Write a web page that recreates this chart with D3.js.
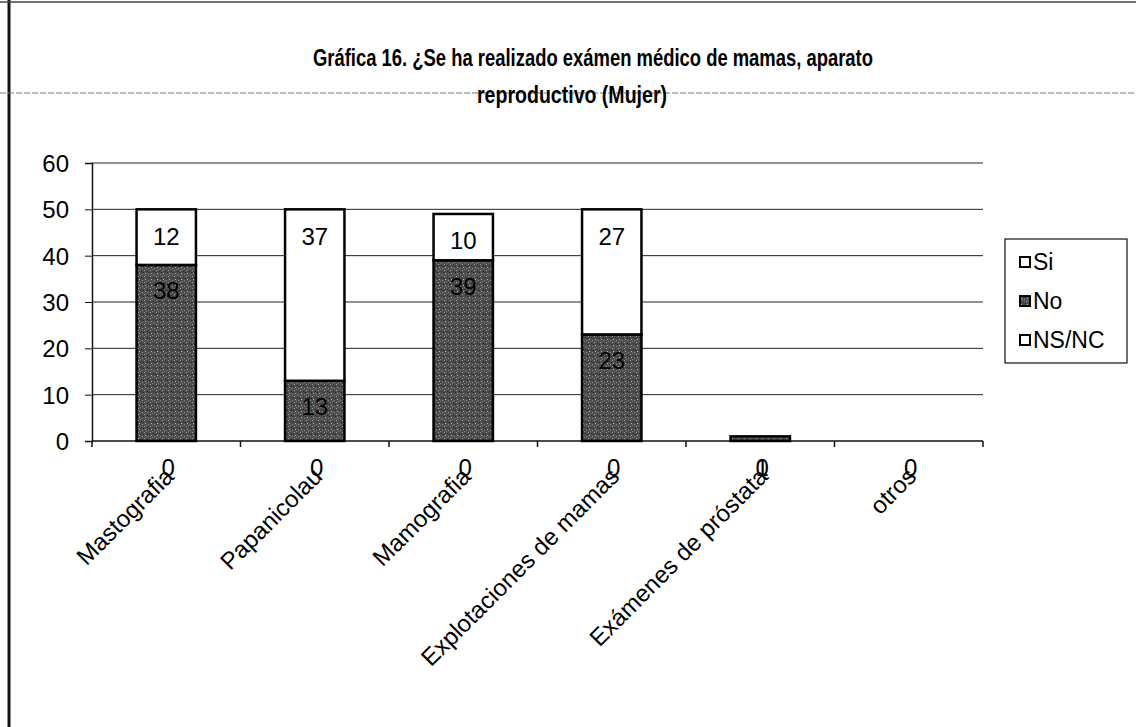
<!DOCTYPE html>
<html>
<head>
<meta charset="utf-8">
<script src="https://cdn.jsdelivr.net/npm/d3@7"></script>
<style>
  body { margin: 0; background: #fff; }
  svg { display: block; }
  text { font-family: Arial, "Liberation Sans", sans-serif; fill: #000; }
</style>
</head>
<body>
<svg id="chart" width="1136" height="727"></svg>
<script>
// data
const categories = ["Mastografia", "Papanicolau", "Mamografia", "Explotaciones de mamas", "Exámenes de próstata", "otros"];
const siValues = [12, 37, 10, 27, 0, 0];
const noValues = [38, 13, 39, 23, 1, 0];
const nsncValues = [0, 0, 0, 0, 0, 0];
const seriesNames = ["Si", "No", "NS/NC"];
const yTicks = [0, 10, 20, 30, 40, 50, 60];
const titleLines = ["Gráfica 16. ¿Se ha realizado exámen médico de mamas, aparato", "reproductivo (Mujer)"];

const rows = categories.map((c, i) => ({ cat: c, "Si": siValues[i], "No": noValues[i], "NS/NC": nsncValues[i] }));

const svg = d3.select("#chart");
const margin = { top: 163, left: 92, right: 983, bottom: 441 };

// speckled dark fill for "No"
const defs = svg.append("defs");
const pat = defs.append("pattern")
    .attr("id", "speckle")
    .attr("patternUnits", "userSpaceOnUse")
    .attr("width", 6).attr("height", 6);
pat.append("rect").attr("width", 6).attr("height", 6).attr("fill", "#4d4d4d");
[[0, 0, "#9a9a9a"], [3, 1, "#2a2a2a"], [1, 3, "#b0b0b0"], [4, 4, "#8a8a8a"], [5, 2, "#222"], [2, 5, "#777"]]
    .forEach(p => pat.append("rect").attr("x", p[0]).attr("y", p[1]).attr("width", 1).attr("height", 1).attr("fill", p[2]));

const colors = { "Si": "#fff", "No": "url(#speckle)", "NS/NC": "#fff" };

// frame of the scanned page
svg.append("line").attr("x1", 9).attr("x2", 9).attr("y1", 0).attr("y2", 727)
    .attr("stroke", "#111").attr("stroke-width", 3);
svg.append("line").attr("x1", 0).attr("x2", 1136).attr("y1", 2).attr("y2", 2)
    .attr("stroke", "#444").attr("stroke-width", 1.5);
svg.append("line").attr("x1", 0).attr("x2", 1136).attr("y1", 93).attr("y2", 93)
    .attr("stroke", "#777").attr("stroke-width", 1).attr("stroke-dasharray", "6,2");

// title
svg.selectAll(".title")
    .data(titleLines)
    .join("text")
    .attr("class", "title")
    .attr("x", (d, i) => i === 0 ? 593 : 572)
    .attr("y", (d, i) => 66 + i * 37)
    .attr("text-anchor", "middle")
    .attr("textLength", (d, i) => i === 0 ? 560 : 190)
    .attr("lengthAdjust", "spacingAndGlyphs")
    .style("font-weight", "bold")
    .style("font-size", "24px")
    .text(d => d);

const x = d3.scaleBand()
    .domain(categories)
    .range([margin.left, margin.right])
    .paddingInner(0.6)
    .paddingOuter(0.3);

const y = d3.scaleLinear()
    .domain([0, 60])
    .range([margin.bottom, margin.top]);

// gridlines
svg.append("g")
    .selectAll("line")
    .data(yTicks.slice(1))
    .join("line")
    .attr("x1", margin.left).attr("x2", margin.right)
    .attr("y1", d => y(d)).attr("y2", d => y(d))
    .attr("stroke", "#222").attr("stroke-width", 1);

// y axis
const yAxis = svg.append("g")
    .attr("transform", `translate(${margin.left},0)`)
    .call(d3.axisLeft(y).tickValues(yTicks).tickSize(7).tickPadding(16).tickFormat(d3.format("d")));
yAxis.select(".domain").attr("stroke", "#111").attr("stroke-width", 1.5);
yAxis.selectAll(".tick line").attr("stroke", "#111");
yAxis.selectAll(".tick text").style("font-size", "24px").attr("dy", "0.35em");

// x axis line and boundary ticks
svg.append("line")
    .attr("x1", margin.left).attr("x2", margin.right)
    .attr("y1", y(0)).attr("y2", y(0))
    .attr("stroke", "#111").attr("stroke-width", 1.5);
const bounds = d3.range(categories.length + 1).map(i => margin.left + i * x.step());
svg.append("g")
    .selectAll("line")
    .data(bounds)
    .join("line")
    .attr("x1", d => d).attr("x2", d => d)
    .attr("y1", y(0)).attr("y2", y(0) + 6)
    .attr("stroke", "#111").attr("stroke-width", 1.5);

// stacked bars
const stack = d3.stack().keys(["NS/NC", "No", "Si"]);
const layers = stack(rows);

svg.append("g")
    .selectAll("g")
    .data(layers)
    .join("g")
    .attr("fill", d => colors[d.key])
    .selectAll("rect")
    .data(d => d.filter(s => s[1] > s[0]))
    .join("rect")
    .attr("x", d => x(d.data.cat))
    .attr("width", x.bandwidth())
    .attr("y", d => y(d[1]))
    .attr("height", d => y(d[0]) - y(d[1]))
    .attr("stroke", "#000")
    .attr("stroke-width", 2.5);

// value labels
const labelG = svg.append("g").style("font-size", "24px").attr("text-anchor", "middle");
layers.forEach(layer => {
    layer.forEach(s => {
        const v = s[1] - s[0];
        const cx = x(s.data.cat) + x.bandwidth() / 2;
        if (layer.key === "NS/NC") {
            labelG.append("text")
                .attr("x", cx + 2)
                .attr("y", y(0) + 27)
                .attr("dy", "0.35em")
                .text(v);
        } else if (v > 0) {
            labelG.append("text")
                .attr("x", layer.key === "No" && v < 5 ? cx + 2 : cx)
                .attr("y", layer.key === "No" && v < 5 ? y(0) + 27 : y(s[1]) + (layer.key === "Si" ? 27 : 26))
                .attr("dy", "0.35em")
                .text(v);
        }
    });
});

// category labels rotated
svg.append("g")
    .selectAll("text")
    .data(categories)
    .join("text")
    .attr("transform", d => `translate(${x(d) + x.bandwidth() / 2 + 3},${y(0) + 31}) rotate(-45)`)
    .attr("text-anchor", "end")
    .attr("dy", "0.35em")
    .style("font-size", "24px")
    .text(d => d);

// legend
const legend = svg.append("g").attr("transform", "translate(1005,239)");
legend.append("rect")
    .attr("width", 122).attr("height", 124)
    .attr("fill", "#fff").attr("stroke", "#111").attr("stroke-width", 1.2);
const items = legend.selectAll("g")
    .data(seriesNames)
    .join("g")
    .attr("transform", (d, i) => `translate(15,${23 + i * 39})`);
items.append("rect")
    .attr("x", 0).attr("y", -5)
    .attr("width", 10).attr("height", 10)
    .attr("fill", d => colors[d])
    .attr("stroke", "#000").attr("stroke-width", 2);
items.append("text")
    .attr("x", 13).attr("dy", "0.35em")
    .style("font-size", "23px")
    .text(d => d);
</script>
</body>
</html>
